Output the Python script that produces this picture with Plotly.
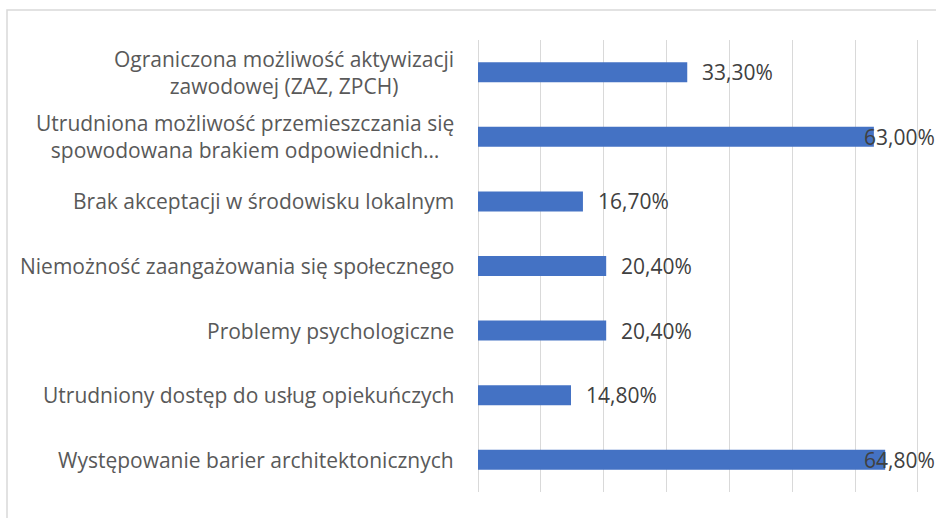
import plotly.graph_objects as go

categories = [
    "Ograniczona możliwość aktywizacji<br>zawodowej (ZAZ, ZPCH)",
    "Utrudniona możliwość przemieszczania się<br>spowodowana brakiem odpowiednich…",
    "Brak akceptacji w środowisku lokalnym",
    "Niemożność zaangażowania się społecznego",
    "Problemy psychologiczne",
    "Utrudniony dostęp do usług opiekuńczych",
    "Występowanie barier architektonicznych",
]
values = [0.333, 0.630, 0.167, 0.204, 0.204, 0.148, 0.648]
value_labels = ["33,30%", "63,00%", "16,70%", "20,40%", "20,40%", "14,80%", "64,80%"]

W, H = 936, 518
L, R, T, B = 478, 15, 40, 26
XMAX = 0.705
FONT = "Open Sans"
FS = 21

fig = go.Figure(go.Bar(
    x=values, y=categories, orientation="h",
    marker=dict(color="#4472C4", line=dict(width=0)),
    hoverinfo="skip",
))

annotations = []
for c in categories:
    annotations.append(dict(
        x=0, xref="paper", y=c, yref="y", xanchor="right", yanchor="middle",
        xshift=-22, align="center", showarrow=False, text=c,
        font=dict(family=FONT, size=FS, color="#595959"),
    ))
for c, v, t in zip(categories, values, value_labels):
    if v > 0.55:
        ann = dict(x=1 + (R + 1) / (W - L - R), xref="paper", xanchor="right")
    else:
        ann = dict(x=v, xref="x", xanchor="left", xshift=13)
    ann.update(y=c, yref="y", yanchor="middle", showarrow=False, text=t,
               font=dict(family=FONT, size=FS, color="#404040"))
    annotations.append(ann)

fig.update_layout(
    width=W, height=H,
    margin=dict(l=L, r=R, t=T, b=B, pad=0),
    paper_bgcolor="white", plot_bgcolor="white",
    bargap=0.69, showlegend=False,
    xaxis=dict(range=[0, XMAX], dtick=0.1, showticklabels=False,
               showgrid=True, gridcolor="#D9D9D9", gridwidth=1,
               zeroline=True, zerolinecolor="#D9D9D9", zerolinewidth=1,
               showline=False, fixedrange=True),
    yaxis=dict(categoryorder="array", categoryarray=categories,
               autorange="reversed", showticklabels=False,
               showgrid=False, zeroline=False, showline=False, fixedrange=True),
    annotations=annotations,
    shapes=[dict(type="rect", xref="paper", yref="paper",
                 x0=(7 - L) / (W - L - R), x1=1.2,
                 y0=-0.2, y1=1 + (T - 10) / (H - T - B),
                 line=dict(color="#D9D9D9", width=1.5), layer="below")],
)

fig.write_html(
    "out.html",
    config={"displayModeBar": False, "staticPlot": True},
    post_script="document.body.style.margin='0';document.body.style.overflow='hidden';",
)
